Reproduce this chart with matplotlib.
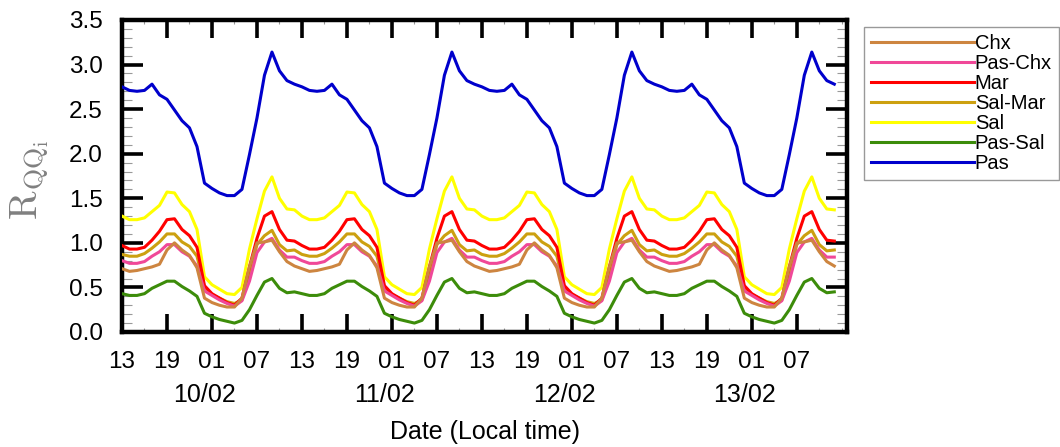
import numpy as np
import matplotlib
matplotlib.use('Agg')
import matplotlib.pyplot as plt
from matplotlib.ticker import MultipleLocator

plt.rcParams['font.family'] = ['Liberation Sans', 'DejaVu Sans']
plt.rcParams['mathtext.fontset'] = 'cm'

# mean daily cycle (hourly, starting at 13h), the figure repeats it for 4 days
n_days = 4
chx     = [0.71, 0.68, 0.69, 0.71, 0.73, 0.76, 0.92, 1.00, 0.92, 0.86, 0.72, 0.38,
           0.33, 0.30, 0.28, 0.28, 0.38, 0.73, 1.00, 1.01, 1.03, 0.90, 0.79, 0.74]
pas_chx = [0.80, 0.77, 0.77, 0.79, 0.85, 0.90, 0.98, 0.98, 0.90, 0.85, 0.74, 0.46,
           0.41, 0.36, 0.32, 0.29, 0.35, 0.57, 0.89, 1.01, 1.05, 0.92, 0.84, 0.84]
mar     = [0.97, 0.93, 0.93, 0.95, 1.03, 1.13, 1.26, 1.27, 1.15, 1.08, 0.95, 0.52,
           0.43, 0.38, 0.33, 0.30, 0.38, 0.73, 1.05, 1.30, 1.35, 1.15, 1.03, 1.02]
sal_mar = [0.87, 0.85, 0.85, 0.88, 0.94, 1.01, 1.10, 1.10, 1.01, 0.96, 0.85, 0.50,
           0.42, 0.38, 0.34, 0.32, 0.36, 0.64, 0.98, 1.08, 1.14, 0.98, 0.91, 0.92]
sal     = [1.30, 1.26, 1.26, 1.28, 1.35, 1.42, 1.57, 1.56, 1.43, 1.35, 1.15, 0.62,
           0.53, 0.48, 0.43, 0.42, 0.50, 0.93, 1.27, 1.58, 1.74, 1.50, 1.38, 1.37]
pas_sal = [0.43, 0.41, 0.41, 0.43, 0.49, 0.53, 0.57, 0.57, 0.51, 0.46, 0.40, 0.21,
           0.17, 0.14, 0.12, 0.10, 0.13, 0.25, 0.41, 0.56, 0.60, 0.49, 0.44, 0.45]
pas     = [2.75, 2.71, 2.70, 2.71, 2.78, 2.66, 2.61, 2.49, 2.37, 2.29, 2.08, 1.67,
           1.61, 1.56, 1.53, 1.53, 1.60, 1.99, 2.40, 2.88, 3.14, 2.93, 2.82, 2.78]

names = ['Chx', 'Pas-Chx', 'Mar', 'Sal-Mar', 'Sal', 'Pas-Sal', 'Pas']
profiles = [chx, pas_chx, mar, sal_mar, sal, pas_sal, pas]
colors = ['#CD8540', '#F04898', '#FF0000', '#CCA010', '#FFFF00', '#3C8C0A', '#0000CC']

hour_labels = ['13', '19', '01', '07'] * n_days
date_labels = ['10/02', '11/02', '12/02', '13/02']

hours = np.arange(24 * n_days)

fig = plt.figure(figsize=(10.6, 4.47), dpi=100)
ax = fig.add_axes([0.1151, 0.2573, 0.684, 0.698])

for i, (name, prof, c) in enumerate(zip(names, profiles, colors)):
    ax.plot(hours, np.tile(prof, n_days), color=c, lw=2.2, label=name, zorder=10 - i)

ax.set_xlim(0, 96.7)
ax.set_ylim(0, 3.5)

ax.set_xticks(np.arange(0, 24 * n_days, 6))
ax.set_xticklabels(hour_labels)
ax.xaxis.set_minor_locator(MultipleLocator(3))
ax.yaxis.set_major_locator(MultipleLocator(0.5))
ax.yaxis.set_minor_locator(MultipleLocator(0.1))
ax.set_yticklabels(['%.1f' % v for v in ax.get_yticks()])

for s in ax.spines.values():
    s.set_linewidth(3.2)
ax.tick_params(which='major', axis='x', direction='in', length=13, width=2.6,
               top=True, labelsize=17.5, pad=14)
ax.tick_params(which='major', axis='y', direction='in', length=15, width=2.6,
               right=True, labelsize=17.5, pad=14)
ax.tick_params(which='minor', axis='y', direction='in', length=7, width=0.8,
               right=True, color='#999999')
ax.tick_params(which='minor', axis='x', direction='in', length=3, width=0.8,
               top=True, color='#999999')

# day labels at midnight under the hour labels
for d, lab in enumerate(date_labels):
    ax.text(11 + 24 * d, -0.202, lab, transform=ax.get_xaxis_transform(),
            ha='center', va='center', fontsize=18)

ax.text(0.5, -0.32, 'Date (Local time)', transform=ax.transAxes, ha='center',
        va='center', fontsize=18)

fig.text(30 / 1060, 1 - 180 / 447, r'$\mathrm{R}_{\mathrm{QQ}_\mathrm{i}}$',
         rotation=90, ha='center', va='center', fontsize=28, color='#808080')

leg = ax.legend(loc='upper left', bbox_to_anchor=(864 / 1060, 1 - 27 / 447),
                bbox_transform=fig.transFigure, fontsize=14.5, handlelength=5.1,
                handletextpad=0.05, labelspacing=0.05, borderpad=0.35,
                borderaxespad=0, fancybox=False, framealpha=1)
leg.get_frame().set_edgecolor('#999999')
leg.get_frame().set_linewidth(1.0)

plt.savefig('out.png', dpi=100)
